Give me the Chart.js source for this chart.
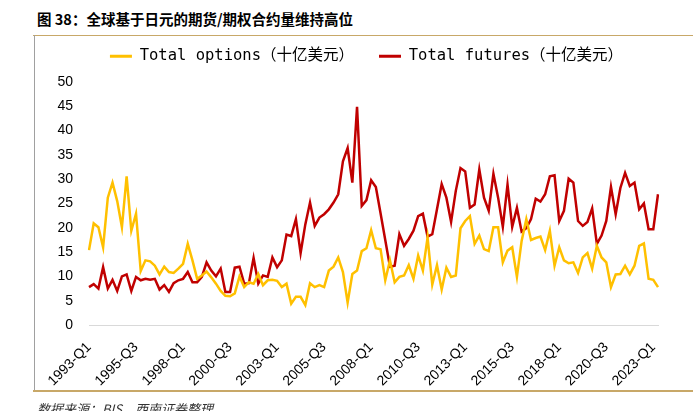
<!DOCTYPE html>
<html>
<head>
<meta charset="utf-8">
<script src="https://cdn.jsdelivr.net/npm/chart.js@4.4.0/dist/chart.umd.min.js"></script>
<style>
  body { margin: 0; background: #fff; width: 696px; height: 411px; overflow: hidden; position: relative; font-family: "Noto Sans CJK SC", sans-serif; }
  #title { position: absolute; left: 37px; top: 8px; font-size: 14.5px; font-weight: bold; color: #000; white-space: nowrap; }
  #topline { position: absolute; left: 33px; top: 35px; width: 660px; height: 1px; background: #c8a868; }
  #leftline { position: absolute; left: 34px; top: 35px; width: 1px; height: 356px; background: #a0a0a0; }
  #botline { position: absolute; left: 33px; top: 390px; width: 660px; height: 2px; background: #c8a868; }
  #src { position: absolute; left: 37px; top: 399px; font-size: 13px; font-style: italic; color: #333; white-space: nowrap; }
  #c { position: absolute; left: 0; top: 0; }
</style>
</head>
<body>
<div id="title">图 38：全球基于日元的期货/期权合约量维持高位</div>
<div id="topline"></div>
<div id="leftline"></div>
<div id="botline"></div>
<canvas id="c" width="696" height="411"></canvas>
<div id="src">数据来源：BIS，西南证券整理</div>
<script>
// quarterly, 1993-Q1 .. 2023-Q2 (十亿美元)
var options = [15.4, 20.9, 20.1, 16.0, 26.2, 29.3, 25.5, 20.1, 30.6, 19.4,
  22.9, 11.1, 13.3, 13.1, 12.2, 10.4, 12.0, 10.9, 10.7, 11.6,
  12.6, 16.7, 13.3, 9.5, 10.2, 11.0, 9.8, 8.5, 7.0, 6.0,
  5.9, 6.5, 10.0, 7.8, 8.8, 8.5, 10.5, 8.2, 9.2, 9.3,
  9.1, 7.8, 8.5, 4.4, 5.8, 5.8, 4.1, 8.6, 7.8, 8.2,
  7.8, 11.2, 12.0, 13.9, 10.9, 4.6, 10.5, 11.2, 15.2, 15.8,
  19.5, 15.8, 15.6, 9.2, 13.3, 8.8, 9.9, 10.2, 12.3, 9.5,
  14.3, 11.2, 18.0, 8.3, 12.3, 7.3, 11.8, 9.9, 10.2, 19.9,
  21.4, 22.4, 16.7, 18.4, 15.6, 15.2, 20.1, 20.1, 12.9, 15.3,
  16.0, 9.9, 17.3, 21.8, 17.5, 17.9, 18.2, 15.4, 19.4, 12.2,
  16.0, 13.3, 12.7, 12.9, 10.7, 13.9, 14.8, 11.6, 16.3, 13.9,
  12.9, 7.8, 10.4, 10.5, 12.2, 10.4, 12.2, 16.3, 16.8, 9.5,
  9.3, 7.8];
var futures = [7.8, 8.4, 7.5, 11.9, 7.5, 9.3, 7.0, 10.0, 10.4, 7.0,
  9.9, 9.2, 9.5, 9.3, 9.5, 7.3, 8.2, 6.8, 8.6, 9.2,
  9.5, 10.9, 8.8, 8.8, 9.9, 12.9, 11.2, 10.0, 11.6, 6.8,
  6.8, 11.8, 12.0, 8.5, 8.6, 13.8, 8.5, 10.2, 9.9, 13.9,
  11.9, 13.3, 18.6, 18.3, 21.8, 14.8, 20.7, 25.2, 20.4, 22.1,
  22.8, 23.8, 25.2, 26.9, 33.7, 36.4, 29.3, 44.9, 24.5, 25.7,
  29.8, 28.4, 23.0, 17.5, 12.0, 12.2, 18.7, 16.3, 17.7, 19.4,
  22.4, 22.9, 18.2, 18.7, 23.8, 29.0, 26.2, 21.2, 27.6, 32.3,
  31.6, 24.1, 24.8, 32.0, 26.2, 23.5, 31.1, 26.2, 20.2, 28.9,
  20.2, 24.1, 19.2, 19.9, 21.8, 26.0, 25.4, 26.9, 30.6, 30.8,
  21.4, 23.5, 30.1, 29.3, 21.4, 20.4, 21.2, 24.0, 16.7, 18.4,
  21.4, 28.4, 22.8, 28.2, 31.3, 28.6, 29.3, 23.8, 25.0, 19.7,
  19.7, 26.9];
var tickLabels = ['1993-Q1', '1995-Q3', '1998-Q1', '2000-Q3', '2003-Q1', '2005-Q3', '2008-Q1',
  '2010-Q3', '2013-Q1', '2015-Q3', '2018-Q1', '2020-Q3', '2023-Q1'];

var quarters = [];
for (var i = 0; i < futures.length; i++) {
  quarters.push((1993 + Math.floor(i / 4)) + '-Q' + (i % 4 + 1));
}

// legend: more room below it, and centred over the plot rather than the canvas
var legendFix = {
  id: 'legendFix',
  beforeLayout: function (chart) {
    var lg = chart.legend;
    if (lg && !lg._patched) {
      var fit = lg.fit;
      lg.fit = function () { fit.call(this); this.height += 23; };
      lg._patched = true;
    }
  },
  afterLayout: function (chart) {
    var lg = chart.legend;
    lg.left += 17.5;
    lg.right += 17.5;
    lg.top += 15;
    lg.bottom += 15;
  }
};

var ctx = document.getElementById('c').getContext('2d');
var myChart = new Chart(ctx, {
  type: 'line',
  data: {
    labels: quarters,
    datasets: [{
      label: 'Total options（十亿美元）',
      data: options,
      borderColor: '#ffc000',
      backgroundColor: '#ffc000',
      borderWidth: 2.5,
      pointRadius: 0,
      tension: 0
    }, {
      label: 'Total futures（十亿美元）',
      data: futures,
      borderColor: '#c00000',
      backgroundColor: '#c00000',
      borderWidth: 2.5,
      pointRadius: 0,
      tension: 0
    }]
  },
  options: {
    responsive: false,
    animation: false,
    layout: { padding: { left: 40, right: 38, top: 8.5, bottom: 0 } },
    plugins: {
      tooltip: { enabled: false },
      legend: {
        position: 'top',
        labels: {
          boxWidth: 22,
          boxHeight: 3,
          padding: 25,
          color: '#000',
          font: { family: '"DejaVu Sans Mono", "Noto Sans CJK SC"', size: 15.5 },
          generateLabels: function (chart) {
            return Chart.defaults.plugins.legend.labels.generateLabels(chart).map(function (l) {
              l.lineWidth = 0;
              return l;
            });
          }
        }
      }
    },
    scales: {
      x: {
        offset: false,
        grid: { display: false },
        border: { color: '#d9d9d9', width: 1 },
        afterFit: function (s) { s.height = 86; },
        ticks: {
          autoSkip: false,
          minRotation: 45,
          maxRotation: 45,
          padding: 6,
          color: '#000',
          font: { family: '"Liberation Sans", Arial', size: 14 },
          callback: function (v, i) { return i % 10 === 0 ? tickLabels[i / 10] : null; }
        }
      },
      y: {
        min: 0,
        max: 50,
        grid: { display: false, drawTicks: false },
        border: { display: false },
        afterFit: function (s) { s.width = 49; },
        ticks: {
          stepSize: 5,
          padding: 16,
          color: '#000',
          font: { family: '"Liberation Sans", Arial', size: 14 }
        }
      }
    }
  },
  plugins: [legendFix]
});
</script>
</body>
</html>
